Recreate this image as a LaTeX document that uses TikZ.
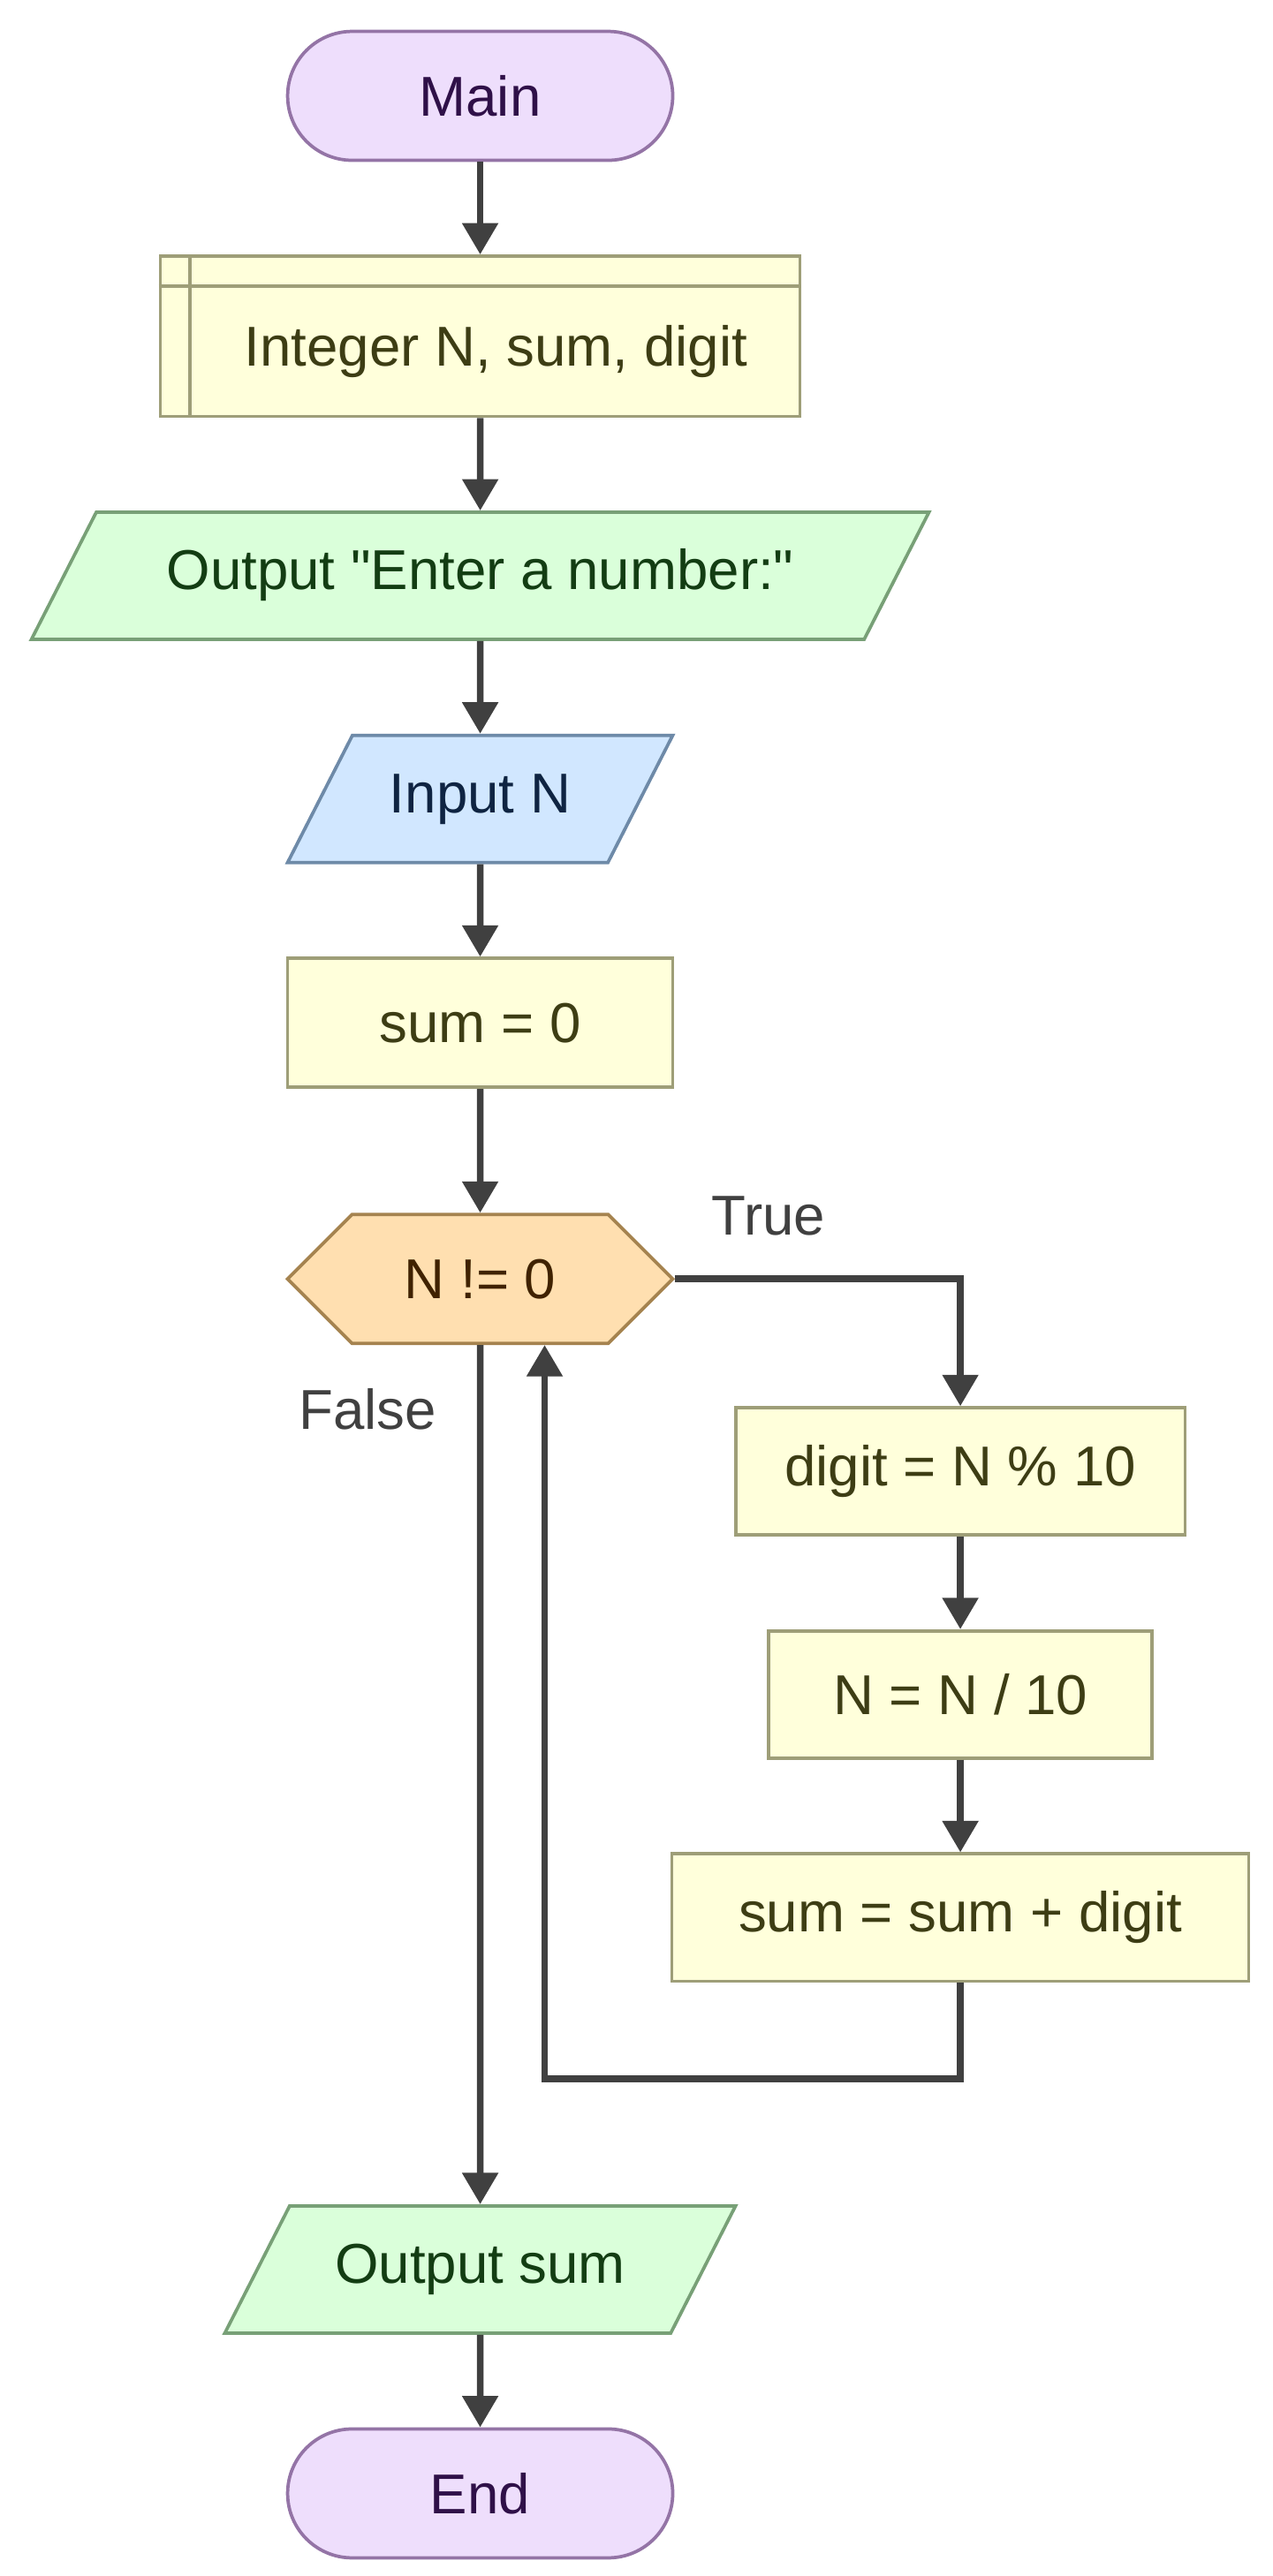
\documentclass[tikz,border=0pt]{standalone}
\usepackage{fontspec}
\setmainfont{Liberation Sans}[Ligatures=TeXOff]
\usepackage{xcolor}
\usetikzlibrary{shapes.geometric, shapes.symbols, arrows.meta}

\definecolor{termfill}{HTML}{EEDEFC}
\definecolor{termline}{HTML}{9474A6}
\definecolor{termtext}{HTML}{2F1048}
\definecolor{procfill}{HTML}{FFFFDB}
\definecolor{procline}{HTML}{9E9E78}
\definecolor{proctext}{HTML}{3D3D14}
\definecolor{outfill}{HTML}{DAFFDA}
\definecolor{outline}{HTML}{78A077}
\definecolor{outtext}{HTML}{133D13}
\definecolor{infill}{HTML}{D1E7FF}
\definecolor{inline}{HTML}{6E8AA8}
\definecolor{intext}{HTML}{0F2442}
\definecolor{decfill}{HTML}{FFDFB0}
\definecolor{decline}{HTML}{A5834F}
\definecolor{dectext}{HTML}{402200}
\definecolor{flowgray}{HTML}{404040}

\begin{document}
\begin{tikzpicture}
    [
       x = 0.5pt, y = -0.5pt,
       font = \fontsize{17}{20}\selectfont,
       base/.style = {draw, line width=1pt, inner sep=0pt, minimum height=39pt},
       terminal/.style = {base, rectangle, rounded corners=19.5pt, minimum width=116.5pt,
          fill=termfill, draw=termline, text=termtext},
       process/.style = {base, rectangle, minimum height=38.5pt, fill=procfill, draw=procline, text=proctext},
       slanted/.style = {base, trapezium, trapezium left angle=63, trapezium right angle=117,
          trapezium stretches body, text height=12.5pt, text depth=4pt,
          inner xsep=0pt, inner ysep=11pt, minimum height=38.5pt},
       output/.style = {slanted, fill=outfill, draw=outline, text=outtext},
       input/.style = {slanted, fill=infill, draw=inline, text=intext},
       decision/.style = {base, signal, signal to=west and east, signal pointer angle=90,
          minimum width=116.5pt, fill=decfill, draw=decline, text=dectext},
       flow/.style = {draw=flowgray, line width=2pt, -{Triangle[length=9.5pt, width=10.5pt]}},
       branch/.style = {text=flowgray, anchor=center},
    ]
    \useasboundingbox (0,0) rectangle (770,1559);

    \node[terminal] (main) at (290.5,58) {Main};
    \node[process, minimum width=193.5pt, minimum height=48.5pt,
          label={[text=proctext, shift={(4.75pt,-4.75pt)}]center:Integer N, sum, digit}] (decl) at (290.5,203.5) {};
    \node[output, minimum width=271.5pt] (prompt) at (290.5,348.5) {Output "Enter a number:"};
    \node[input, minimum width=116.5pt] (read) at (290.5,483.5) {Input N};
    \node[process, minimum width=116.5pt, minimum height=39pt] (init) at (290.5,619) {sum = 0};
    \node[decision] (test) at (290.5,774) {N != 0};

    \node[process, minimum width=136pt] (digit) at (581,890.5) {digit = N \% 10};
    \node[process, minimum width=116pt] (shrink) at (581,1025.5) {N = N / 10};
    \node[process, minimum width=174.5pt] (add) at (581,1160.5) {sum = sum + digit};

    \node[output, minimum width=154.5pt] (result) at (290.5,1373.5) {Output sum};
    \node[terminal] (stop) at (290.5,1509) {End};

    % declaration box inner lines
    \draw[procline, line width=1pt] ([xshift=9.5pt]decl.north west) -- ([xshift=9.5pt]decl.south west);
    \draw[procline, line width=1pt] ([yshift=-9.5pt]decl.north west) -- ([yshift=-9.5pt]decl.north east);

    \draw[flow] (main) -- (decl);
    \draw[flow] (decl) -- (prompt);
    \draw[flow] (prompt) -- (read);
    \draw[flow] (read) -- (init);
    \draw[flow] (init) -- (test);
    \draw[flow] (test.east) -| node[branch, pos=0.164, yshift=19pt] {True} (digit.north);
    \draw[flow] (digit) -- (shrink);
    \draw[flow] (shrink) -- (add);
    \draw[flow] (add.south) -- ++(0,58) -| ([xshift=19.5pt]test.south);
    \draw[flow] (test.south) -- node[branch, pos=0.075, xshift=-34pt] {False} (result.north);
    \draw[flow] (result) -- (stop);
\end{tikzpicture}
\end{document}
